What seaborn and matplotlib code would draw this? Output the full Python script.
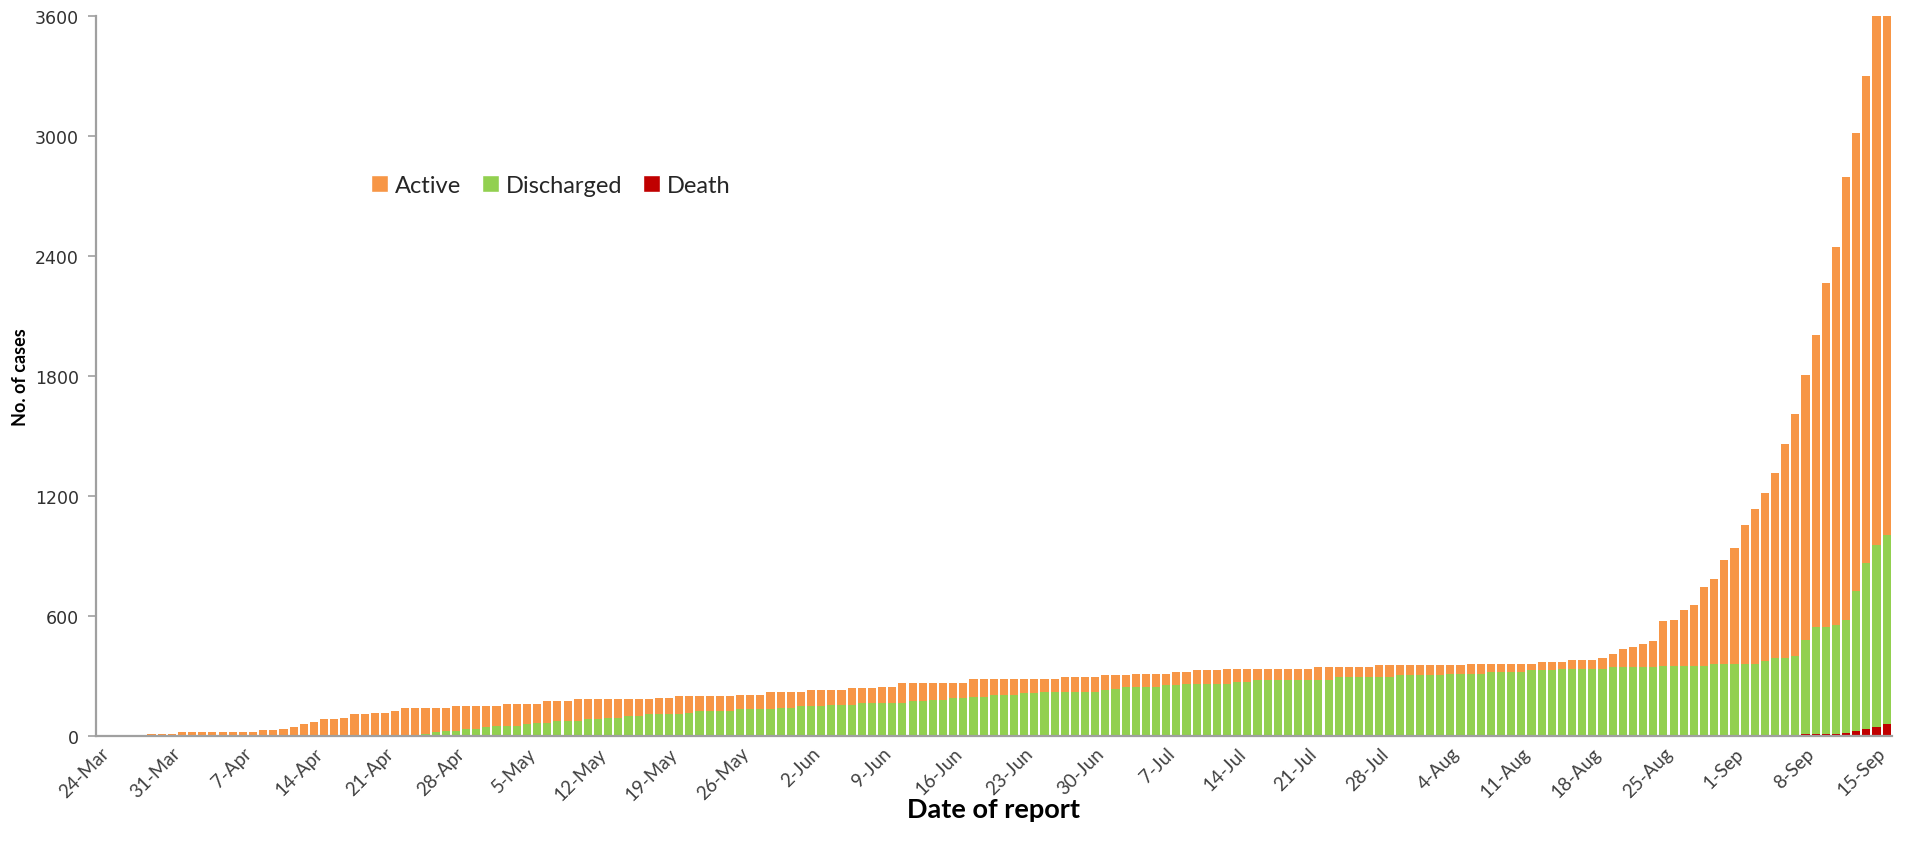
import matplotlib
matplotlib.use("Agg")
import matplotlib.pyplot as plt
from matplotlib.patches import Patch
import seaborn as sns
import pandas as pd
import numpy as np

# Daily report dates, 24-Mar to 16-Sep
dates = pd.date_range("2020-03-24", "2020-09-16", freq="D")
day_labels = [f"{d.day}-{d.strftime('%b')}" for d in dates]

# Cases (one value per day)
active = [
    0, 0, 0, 0, 0, 10, 10, 10, 18, 18,
    18, 18, 18, 18, 18, 18, 28, 28, 37, 43,
    60, 68, 83, 76, 85, 101, 101, 110, 110, 118,
    135, 135, 132, 124, 115, 123, 113, 113, 107, 98,
    106, 106, 100, 91, 108, 100, 100, 108, 100, 100,
    91, 91, 83, 83, 75, 84, 84, 92, 83, 75,
    75, 75, 75, 72, 72, 72, 89, 82, 82, 74,
    82, 82, 73, 73, 81, 73, 73, 82, 82, 98,
    90, 90, 81, 81, 75, 75, 90, 90, 82, 82,
    82, 74, 74, 65, 65, 73, 73, 73, 73, 73,
    66, 58, 67, 67, 67, 59, 67, 58, 66, 66,
    66, 75, 67, 67, 59, 59, 59, 59, 55, 55,
    63, 63, 50, 50, 50, 50, 58, 58, 50, 50,
    50, 50, 50, 41, 41, 50, 50, 42, 42, 42,
    42, 34, 42, 42, 33, 41, 41, 41, 55, 66,
    90, 99, 114, 130, 223, 230, 280, 304, 392, 425,
    522, 582, 694, 777, 839, 924, 1071, 1210, 1326, 1462,
    1721, 1893, 2217, 2291, 2438, 2652, 2795,
]
discharged = [
    0, 0, 0, 0, 0, 0, 0, 0, 0, 0,
    0, 0, 0, 0, 0, 0, 0, 0, 0, 0,
    0, 0, 0, 7, 7, 7, 7, 7, 7, 7,
    7, 7, 10, 18, 27, 27, 37, 37, 43, 52,
    52, 52, 58, 67, 67, 75, 75, 75, 83, 83,
    92, 92, 100, 100, 108, 108, 108, 108, 117, 125,
    125, 125, 125, 133, 133, 133, 133, 140, 140, 148,
    148, 148, 157, 157, 157, 165, 165, 165, 165, 165,
    173, 173, 182, 182, 188, 188, 197, 197, 205, 205,
    205, 213, 213, 222, 222, 222, 222, 222, 222, 230,
    237, 245, 245, 245, 245, 253, 253, 262, 262, 262,
    262, 262, 270, 270, 278, 278, 278, 278, 282, 282,
    282, 282, 295, 295, 295, 295, 295, 295, 303, 303,
    303, 303, 303, 312, 312, 312, 312, 320, 320, 320,
    320, 328, 328, 328, 337, 337, 337, 337, 337, 345,
    345, 345, 345, 345, 352, 352, 352, 352, 352, 359,
    359, 359, 359, 359, 375, 390, 390, 399, 470, 536,
    536, 542, 563, 703, 829, 910, 946,
]
death = [0] * 168 + [10, 10, 10, 12, 17, 24, 36, 43, 59]

orange = "#F79646"
green = "#92D050"
red = "#C00000"

df = pd.DataFrame({
    "date": day_labels,
    "Active": active,
    "Discharged": discharged,
    "Death": death,
})

sns.set_theme(style="white")
plt.rcParams["font.family"] = ["Lato", "DejaVu Sans"]

fig = plt.figure(figsize=(19.07, 8.62), dpi=100)
ax = fig.add_axes([0.0502, 0.145, 0.9418, 0.835])

# stacked bars: death at the bottom, then discharged, then active
base1 = df["Death"].to_numpy()
base2 = base1 + df["Discharged"].to_numpy()
sns.barplot(data=df, x="date", y="Death", color=red, saturation=1,
            width=0.8, linewidth=0, errorbar=None, ax=ax)
sns.barplot(data=df, x="date", y="Discharged", color=green, saturation=1,
            width=0.8, linewidth=0, errorbar=None, bottom=base1, ax=ax)
sns.barplot(data=df, x="date", y="Active", color=orange, saturation=1,
            width=0.8, linewidth=0, errorbar=None, bottom=base2, ax=ax)

ax.set_ylim(0, 3600)
ax.set_xlim(-0.5, len(df) - 0.5)
ax.set_yticks(range(0, 3601, 600))
ax.set_xticks(range(0, len(df), 7))
ax.set_xticklabels(day_labels[::7], rotation=45, ha="right",
                   rotation_mode="anchor", fontsize=13.5, color="#404040")
for lab in ax.get_yticklabels():
    lab.set_family("DejaVu Sans")
    lab.set_fontsize(12.5)
    lab.set_color("#303030")

ax.tick_params(axis="x", length=0, pad=6)
ax.tick_params(axis="y", length=6, width=1.2, color="#A0A0A0", direction="out", left=True, pad=6)

sns.despine(ax=ax)
for side in ["left", "bottom"]:
    ax.spines[side].set_color("#A0A0A0")
    ax.spines[side].set_linewidth(1.6)

ax.set_xlabel("Date of report", fontsize=19.5, fontweight="bold", color="black")
ax.set_ylabel("No. of cases", fontsize=13, fontweight="bold", color="black")
ax.xaxis.set_label_coords(0.5, -0.085)
ax.yaxis.set_label_coords(-0.037, 0.5)

handles = [Patch(facecolor=orange), Patch(facecolor=green), Patch(facecolor=red)]
ax.legend(handles, ["Active", "Discharged", "Death"], ncol=3, frameon=False,
          loc="center left", bbox_to_anchor=(0.148, 0.765), fontsize=17,
          handlelength=0.7, handleheight=0.7, handletextpad=0.3,
          columnspacing=0.9, borderaxespad=0)

fig.savefig("out.png", dpi=100)
